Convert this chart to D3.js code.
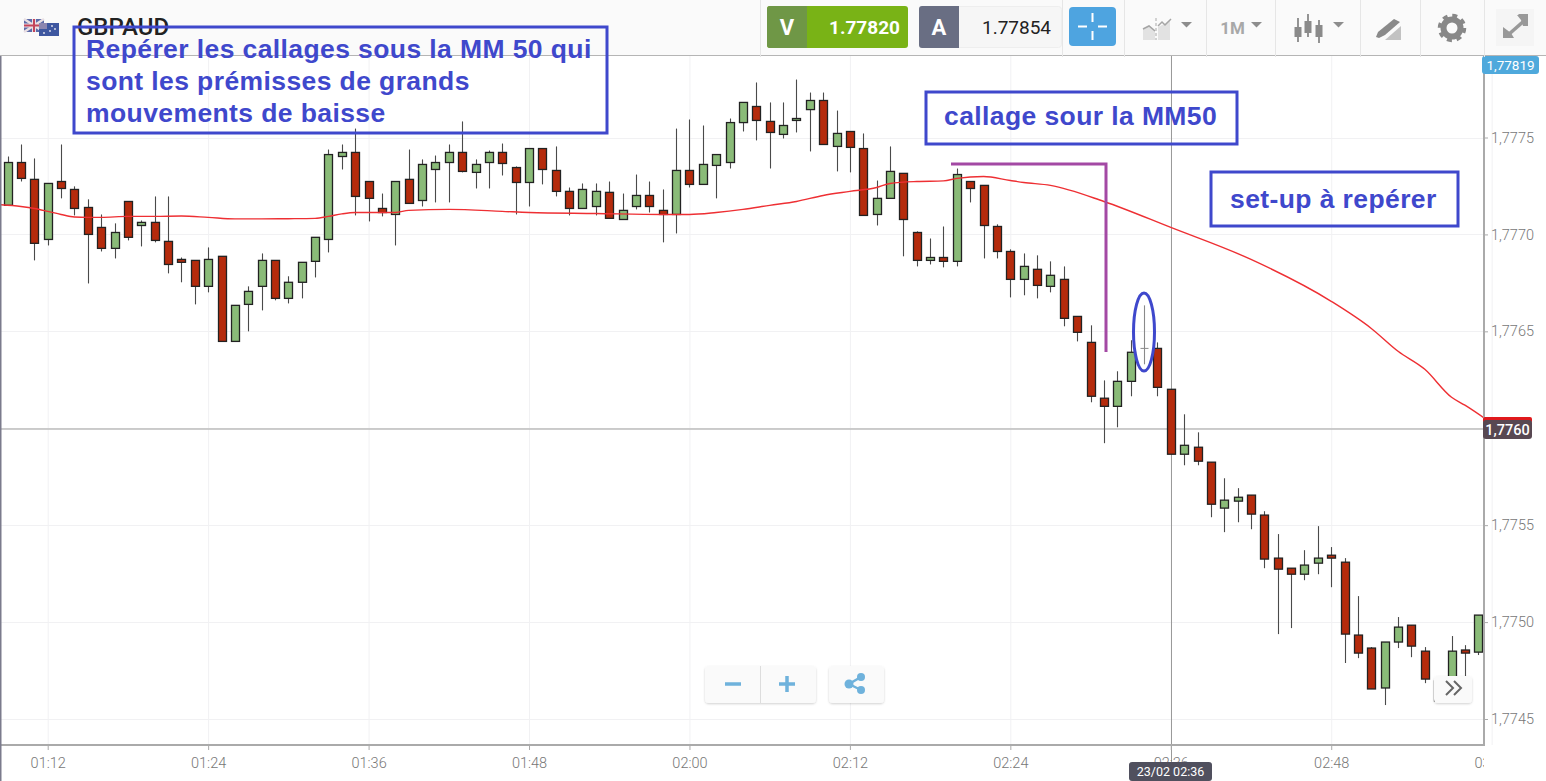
<!DOCTYPE html>
<html><head><meta charset="utf-8">
<script src="https://cdnjs.cloudflare.com/ajax/libs/d3/7.8.5/d3.min.js"></script>
<style>
html,body{margin:0;padding:0;background:#fff;overflow:hidden}
svg{display:block}
</style></head><body><svg id="c" width="1546" height="781"></svg>
<script>
// Candles: one entry per minute, starting 23/02 01:09
const highs = [1.777402,1.777464,1.777392,1.777263,1.777464,1.777248,1.777181,1.777103,1.777057,1.777170,1.777072,1.777196,1.777196,1.776881,1.776866,1.776933,1.776887,1.776634,1.776732,1.776902,1.776866,1.776784,1.776856,1.776985,1.777438,1.777464,1.777546,1.777273,1.777211,1.777273,1.777438,1.777387,1.777407,1.777464,1.777583,1.777387,1.777433,1.777469,1.777351,1.777443,1.777443,1.777454,1.777242,1.777263,1.777263,1.777273,1.777211,1.777309,1.777273,1.777232,1.777546,1.777593,1.777562,1.777412,1.777598,1.777681,1.777784,1.777681,1.777681,1.777799,1.777732,1.777732,1.777639,1.777531,1.777521,1.777278,1.777454,1.777315,1.777016,1.776979,1.777041,1.777340,1.777273,1.777253,1.777052,1.776923,1.776902,1.776892,1.776861,1.776835,1.776577,1.776531,1.776247,1.776294,1.776454,1.776634,1.776443,1.776201,1.776072,1.775979,1.775825,1.775742,1.775691,1.775655,1.775572,1.775454,1.775278,1.775371,1.775495,1.775387,1.775330,1.775134,1.774871,1.774897,1.775026,1.774984,1.774871,1.774706,1.774928,1.774881,1.775036];
const opens = [1.777150,1.777371,1.777284,1.776974,1.777273,1.777232,1.777139,1.777036,1.776928,1.777170,1.777046,1.777062,1.776964,1.776871,1.776866,1.776732,1.776887,1.776448,1.776639,1.776732,1.776866,1.776670,1.776753,1.776861,1.776974,1.777402,1.777423,1.777273,1.777134,1.777103,1.777284,1.777175,1.777335,1.777371,1.777423,1.777320,1.777371,1.777423,1.777345,1.777268,1.777443,1.777330,1.777222,1.777134,1.777144,1.777217,1.777077,1.777144,1.777201,1.777124,1.777103,1.777330,1.777258,1.777356,1.777371,1.777577,1.777660,1.777583,1.777516,1.777588,1.777644,1.777691,1.777454,1.777531,1.777443,1.777103,1.777186,1.777315,1.777010,1.776866,1.776881,1.776861,1.777273,1.777253,1.777041,1.776912,1.776768,1.776820,1.776732,1.776768,1.776577,1.776443,1.776155,1.776113,1.776242,1.776412,1.776412,1.776201,1.775866,1.775902,1.775825,1.775588,1.775624,1.775655,1.775552,1.775330,1.775278,1.775247,1.775304,1.775345,1.775309,1.774933,1.774866,1.774660,1.774897,1.774984,1.774850,1.774696,1.774655,1.774856,1.774845];
const closes = [1.777371,1.777289,1.776954,1.777263,1.777237,1.777134,1.777000,1.776928,1.777010,1.776985,1.777062,1.776969,1.776845,1.776856,1.776732,1.776871,1.776448,1.776634,1.776706,1.776866,1.776670,1.776753,1.776856,1.776985,1.777412,1.777423,1.777196,1.777186,1.777113,1.777273,1.777160,1.777361,1.777371,1.777423,1.777325,1.777361,1.777423,1.777366,1.777268,1.777443,1.777335,1.777222,1.777134,1.777232,1.777222,1.777083,1.777124,1.777201,1.777144,1.777103,1.777330,1.777258,1.777361,1.777412,1.777577,1.777681,1.777588,1.777526,1.777562,1.777598,1.777691,1.777464,1.777521,1.777449,1.777098,1.777186,1.777325,1.777077,1.776866,1.776881,1.776861,1.777309,1.777237,1.777046,1.776912,1.776768,1.776835,1.776737,1.776789,1.776567,1.776495,1.776165,1.776113,1.776242,1.776392,1.776412,1.776211,1.775866,1.775912,1.775830,1.775608,1.775629,1.775644,1.775557,1.775325,1.775273,1.775247,1.775294,1.775330,1.775330,1.774938,1.774840,1.774655,1.774897,1.774974,1.774876,1.774706,1.774593,1.774850,1.774840,1.775036];
const lows = [1.777150,1.777273,1.776866,1.776943,1.777186,1.777098,1.776747,1.776912,1.776876,1.776969,1.776938,1.776959,1.776799,1.776753,1.776639,1.776701,1.776448,1.776448,1.776500,1.776608,1.776660,1.776644,1.776670,1.776778,1.776907,1.777335,1.777098,1.777067,1.777093,1.776943,1.777160,1.777144,1.777165,1.777165,1.777320,1.777237,1.777237,1.777304,1.777103,1.777144,1.777258,1.777196,1.777098,1.777134,1.777098,1.777083,1.777077,1.777129,1.777113,1.776959,1.777005,1.777242,1.777258,1.777186,1.777340,1.777531,1.777485,1.777340,1.777495,1.777526,1.777428,1.777464,1.777325,1.777320,1.777098,1.777046,1.777186,1.776887,1.776835,1.776845,1.776830,1.776835,1.777165,1.776876,1.776876,1.776675,1.776686,1.776670,1.776701,1.776526,1.776448,1.776134,1.775923,1.776005,1.776165,1.776330,1.776165,1.775866,1.775809,1.775809,1.775541,1.775464,1.775515,1.775479,1.775278,1.774938,1.774969,1.775216,1.775247,1.775180,1.774789,1.774814,1.774655,1.774572,1.774866,1.774819,1.774685,1.774593,1.774629,1.774706,1.774830];
// Moving average: minute position after 01:12, and its value
const maMinutes = [-4,-2,-1,0,1,2,3,4,6,8,10,12,14,16,18,20,21,22,23,26,27,30,34,36,41,46,48,50,52,54,56,58,60,62,63,65,67,68,70,72,73,75,79,84,90,96,99,101,103,105,106,108];
const maValues = [1.777155,1.777144,1.777134,1.777119,1.777103,1.777090,1.777088,1.777088,1.777093,1.777093,1.777095,1.777088,1.777080,1.777080,1.777081,1.777083,1.777093,1.777106,1.777113,1.777113,1.777124,1.777129,1.777119,1.777113,1.777108,1.777103,1.777103,1.777113,1.777129,1.777150,1.777170,1.777201,1.777222,1.777242,1.777263,1.777273,1.777276,1.777289,1.777299,1.777278,1.777268,1.777253,1.777170,1.777036,1.776871,1.776655,1.776515,1.776397,1.776304,1.776160,1.776119,1.776026];
const priceTicks = [1.7745,1.7750,1.7755,1.7760,1.7765,1.7770,1.7775];
const timeTicks = ["01:12","01:24","01:36","01:48","02:00","02:12","02:24","02:36","02:48","03:00"];

const svg = d3.select("#c");
const FONT = "Roboto, sans-serif", BLUE = "#3f48cc";
const plot = {l:1, r:1484, t:56, b:745};
const t0 = new Date("2023-02-23T01:12:00");
const atMin = m => new Date(+t0 + m*60000);
const x = d3.scaleTime().domain([t0, atMin(108)]).range([47.7, 47.7+13.37*108]);
const y = d3.scaleLinear().domain([1.7745,1.7775]).range([719,137.5]);
const parseHM = h => { const [a,b]=h.split(":").map(Number); return atMin((a-1)*60+b-12); };
const fmtPrice = d3.formatLocale({decimal:",",thousands:" ",grouping:[3],currency:["",""]}).format(".4f");

const defs = svg.append("defs");
defs.append("clipPath").attr("id","plotClip").append("rect").attr("x",plot.l).attr("y",plot.t).attr("width",plot.r-plot.l).attr("height",plot.b-plot.t);
defs.append("clipPath").attr("id","axisClip").append("rect").attr("x",0).attr("y",plot.b).attr("width",1484).attr("height",40);
const sh = defs.append("filter").attr("id","sh").attr("x","-10%").attr("y","-10%").attr("width","120%").attr("height","130%");
sh.append("feDropShadow").attr("dx",0).attr("dy",1).attr("stdDeviation",1).attr("flood-color","#000").attr("flood-opacity",.18);

// Grid
const g = svg.append("g");
g.selectAll("line.v").data(timeTicks).join("line").attr("class","v")
 .attr("x1",d=>x(parseHM(d))+.5).attr("x2",d=>x(parseHM(d))+.5).attr("y1",plot.t).attr("y2",plot.b).attr("stroke","#f1f1f3");
g.selectAll("line.h").data(priceTicks).join("line").attr("class","h")
 .attr("x1",plot.l).attr("x2",plot.r).attr("y1",d=>Math.round(y(d))+.5).attr("y2",d=>Math.round(y(d))+.5).attr("stroke","#f1f1f3");

// Crosshair
g.append("line").attr("x1",1171.5).attr("x2",1171.5).attr("y1",plot.t).attr("y2",763).attr("stroke","#9a9a9a");
g.append("line").attr("x1",0).attr("x2",plot.r).attr("y1",429).attr("y2",429).attr("stroke","#bdbdbd").attr("stroke-width",1.5);

// Candles
const candles = highs.map((h,i)=>({t:atMin(i-3),h,o:opens[i],c:closes[i],l:lows[i]}));
const cg = svg.append("g").attr("clip-path","url(#plotClip)");
const px = d => Math.round(x(d.t));
const cs = cg.selectAll("g").data(candles).join("g");
cs.append("line").attr("x1",d=>px(d)+.5).attr("x2",d=>px(d)+.5).attr("y1",d=>y(d.h)).attr("y2",d=>y(d.l))
  .attr("stroke",d=>d.o===d.c?"#8a8a8a":"#4a4a4a").attr("stroke-width",1.1);
cs.filter(d=>d.o!==d.c).append("rect").attr("x",d=>px(d)-3.5).attr("width",8)
  .attr("y",d=>y(Math.max(d.o,d.c))).attr("height",d=>Math.abs(y(d.o)-y(d.c)))
  .attr("fill",d=>d.c>d.o?"#8abb78":"#b52b0c").attr("stroke","#222").attr("stroke-width",1.3);
cs.filter(d=>d.o===d.c).append("line").attr("x1",d=>px(d)-3.5).attr("x2",d=>px(d)+4.5)
  .attr("y1",d=>y(d.o)).attr("y2",d=>y(d.o)).attr("stroke","#8a8a8a");

// Moving average
cg.append("path").datum(maMinutes.map((m,i)=>[atMin(m),maValues[i]]))
  .attr("d",d3.line().x(d=>x(d[0])).y(d=>y(d[1])).curve(d3.curveMonotoneX)).attr("fill","none").attr("stroke","#ee2f33").attr("stroke-width",1.4);

// Axes
const yAxis = d3.axisRight(y).tickValues(priceTicks).tickFormat(fmtPrice).tickSize(4).tickPadding(3);
const ya = svg.append("g").attr("transform",`translate(${plot.r},0)`).call(yAxis);
ya.selectAll(".tick").filter(d=>d===1.7760).select("text").remove();
const xAxis = d3.axisBottom(x).tickValues(timeTicks.map(parseHM)).tickFormat(d3.timeFormat("%H:%M")).tickSize(5).tickPadding(8);
const xa = svg.append("g").attr("clip-path","url(#axisClip)").append("g").attr("transform",`translate(0,${plot.b})`).call(xAxis);
[ya,xa].forEach(a=>{
  a.select(".domain").remove();
  a.selectAll("line").attr("stroke","#aaa");
  a.selectAll("text").attr("fill","#777").style("font-family",FONT).style("font-size","14.5px").style("font-weight",300);
});
svg.append("line").attr("x1",plot.l).attr("x2",plot.r+1).attr("y1",plot.b).attr("y2",plot.b).attr("stroke","#aaa").attr("stroke-width",2);
svg.append("line").attr("x1",plot.r).attr("x2",plot.r).attr("y1",plot.t).attr("y2",plot.b).attr("stroke","#aaa").attr("stroke-width",2);
svg.append("rect").attr("x",0).attr("y",0).attr("width",1.5).attr("height",781).attr("fill","#7b7b8c");

// Axis labels
function tag(x0,y0,w,h,fill,txt,col,fs,fw){
  svg.append("rect").attr("x",x0).attr("y",y0).attr("width",w).attr("height",h).attr("rx",3).attr("fill",fill);
  svg.append("text").attr("x",x0+w/2).attr("y",y0+h/2+.5).attr("dy",".35em").attr("text-anchor","middle").attr("fill",col)
     .style("font-family",FONT).style("font-size",fs+"px").style("font-weight",fw).text(txt);
}
tag(1482,56,57,18,"#4fa9dc","1,77819","#fff",13.5,400);
svg.append("rect").attr("x",1483).attr("y",417).attr("width",49).attr("height",6).attr("rx",2).attr("fill","#e0191c");
tag(1483,420,49,19,"#584852","1,7760","#fff",14.5,500);
tag(1129,762,83,19,"#50505e","23/02 02:36","#fff",12.5,400);

// Toolbar
const tb = svg.append("g");
tb.append("rect").attr("x",0).attr("y",0).attr("width",1546).attr("height",55).attr("fill","#fafafa");
tb.append("line").attr("x1",0).attr("x2",1546).attr("y1",55.5).attr("y2",55.5).attr("stroke","#b5b5b5");
[760,1062,1124,1206,1275,1360,1420,1484].forEach(v=>tb.append("line").attr("x1",v+.5).attr("x2",v+.5).attr("y1",0).attr("y2",57).attr("stroke","#e6e6e6"));
tb.append("rect").attr("x",767).attr("y",6).attr("width",141).attr("height",42).attr("rx",3).attr("fill","#79b316");
tb.append("path").attr("d","M770 6H807V48H770a3 3 0 0 1-3-3V9a3 3 0 0 1 3-3z").attr("fill","#6f9746");
tb.append("rect").attr("x",919.5).attr("y",6.5).attr("width",142).attr("height",41).attr("rx",3).attr("fill","#f6f6f6").attr("stroke","#eee");
tb.append("path").attr("d","M922 6H959V48H922a3 3 0 0 1-3-3V9a3 3 0 0 1 3-3z").attr("fill","#696e83");
const tt=(xx,yy,s,col,fs,fw,anc)=>tb.append("text").attr("x",xx).attr("y",yy).attr("text-anchor",anc||"middle").attr("fill",col).style("font-family",FONT).style("font-size",fs+"px").style("font-weight",fw).text(s);
tt(787,34.5,"V","#fff",22,700);
tt(864.5,33.5,"1.77820","#fff",19,700);
tt(939,34.5,"A","#fff",22,700);
tt(1016.5,33.5,"1.77854","#222",19,400);
tb.append("rect").attr("x",1069).attr("y",7).attr("width",47).attr("height",39).attr("rx",4).attr("fill","#4ea4e0");
tb.append("path").attr("d","M1092.5 13V22M1092.5 31V40M1078 26.5H1087M1098 26.5H1107").attr("stroke","#fff").attr("stroke-width",2);
// area icon
tb.append("path").attr("d","M1143 40V29L1149 25L1155 30V40ZM1158 40V27L1164 24L1170 20V40Z").attr("fill","#e2e2e2");
tb.append("path").attr("d","M1143 29L1149 26L1155 31M1158 26L1162 22L1165 25L1171 19").attr("fill","none").attr("stroke","#a5a5a5").attr("stroke-width",1.5);
tb.append("path").attr("d","M1156 18V40").attr("stroke","#aaa").attr("stroke-dasharray","3 2");
const tri=(xx)=>tb.append("path").attr("d",`M${xx} 22H${xx+11}L${xx+5.5} 27.5Z`).attr("fill","#8d8d8d");
tri(1181);tri(1251);tri(1333);
tt(1232.5,33.5,"1M","#a8a8a8",17,700);
// candles icon
[[1298,18,42,27,37],[1308,14,37,21,33],[1319,20,43,25,37]].forEach(a=>{
  tb.append("line").attr("x1",a[0]).attr("x2",a[0]).attr("y1",a[1]).attr("y2",a[2]).attr("stroke","#888").attr("stroke-width",1.8);
  tb.append("rect").attr("x",a[0]-3.5).attr("y",a[3]).attr("width",7).attr("height",a[4]-a[3]).attr("fill","#8a8a8a");
});
// pencil icon
tb.append("path").attr("d","M1376 37L1378 32L1394 19L1400 22L1385 35L1379 38Z").attr("fill","#8a8a8a");
tb.append("path").attr("d","M1385 40L1401 26V40Z").attr("fill","#c2c2c2");
// gear icon
tb.append("circle").attr("cx",1452).attr("cy",28).attr("r",8.5).attr("fill","none").attr("stroke","#888").attr("stroke-width",6);
tb.append("circle").attr("cx",1452).attr("cy",28).attr("r",12.5).attr("fill","none").attr("stroke","#888").attr("stroke-width",3.5).attr("stroke-dasharray","5 4.8");
// expand icon
tb.append("rect").attr("x",1496).attr("y",9).attr("width",38).attr("height",37).attr("fill","#f5f5f5");
tb.append("path").attr("d","M1508 35L1525 20").attr("stroke","#999").attr("stroke-width",3.5);
tb.append("path").attr("d","M1517 15H1528V26H1523L1521 20ZM1503 27V38H1514L1511 33Z").attr("fill","#999");
tb.append("path").attr("d","M1518 14H1528V25ZM1503 28V38H1513Z").attr("fill","#999");
// flags
const f = tb.append("g");
f.append("rect").attr("x",24).attr("y",19).attr("width",20).attr("height",13).attr("fill","#5c6aa8");
f.append("path").attr("d","M24 19L44 32M44 19L24 32").attr("stroke","#e9dfe3").attr("stroke-width",2.5);
f.append("path").attr("d","M34 19V32M24 25.5H44").attr("stroke","#e9dfe3").attr("stroke-width",4);
f.append("path").attr("d","M34 19V32M24 25.5H44").attr("stroke","#c4445a").attr("stroke-width",2);
f.append("rect").attr("x",39).attr("y",23).attr("width",20).attr("height",13).attr("fill","#3e57a0");
f.append("path").attr("d","M39 23H47V29H39Z").attr("fill","#8c86b0");
[[52,26],[55,29],[50,31],[44,33]].forEach(p=>f.append("circle").attr("cx",p[0]).attr("cy",p[1]).attr("r",.9).attr("fill","#e8e8f0"));
tt(77,35,"GBPAUD","#222",24,500,"start");

// Buttons
function btn(x0,y0,w,h){svg.append("rect").attr("x",x0).attr("y",y0).attr("width",w).attr("height",h).attr("rx",4).attr("fill","#fafafa").attr("filter","url(#sh)");}
btn(705,666,111,37);btn(829,666,55,37);btn(1434,676,38,27);
svg.append("line").attr("x1",760.5).attr("x2",760.5).attr("y1",666).attr("y2",703).attr("stroke","#ddd");
svg.append("path").attr("d","M725 684H741M779 684H795M787 676V692").attr("stroke","#6fb2dc").attr("stroke-width",3.5).attr("fill","none");
svg.append("path").attr("d","M861 677L849 684L861 690").attr("stroke","#6fb2dc").attr("stroke-width",2.5).attr("fill","none");
[[861,677,4],[849,684,4.5],[861,690,4]].forEach(p=>svg.append("circle").attr("cx",p[0]).attr("cy",p[1]).attr("r",p[2]).attr("fill","#6fb2dc"));
svg.append("path").attr("d","M1446 681L1453 688L1446 695M1454 681L1461 688L1454 695").attr("stroke","#666").attr("stroke-width",2).attr("fill","none");

// Hand-drawn annotations
const ann = svg.append("g");
function box(x0,y0,x1,y1){ann.append("rect").attr("x",x0).attr("y",y0).attr("width",x1-x0).attr("height",y1-y0).attr("fill","none").attr("stroke",BLUE).attr("stroke-width",3);}
function note(xx,yy,s){ann.append("text").attr("x",xx).attr("y",yy).attr("fill",BLUE).style("font-family","'Liberation Sans',Arial,sans-serif").style("font-size","26.5px").style("font-weight",700).style("letter-spacing",".4px").text(s);}
box(74,27,607,133);
note(86,58,"Repérer les callages sous la MM 50 qui");
note(86,90,"sont les prémisses de grands");
note(86,122,"mouvements de baisse");
box(926,92,1237,144);
note(944,125,"callage sour la MM50");
box(1211,172,1458,226);
note(1230,208,"set-up à repérer");
ann.append("path").attr("d","M951 164H1106V352").attr("fill","none").attr("stroke","#a349a4").attr("stroke-width",3);
ann.append("ellipse").attr("cx",1144).attr("cy",332).attr("rx",10.5).attr("ry",39).attr("fill","none").attr("stroke",BLUE).attr("stroke-width",3);
</script></body></html>
